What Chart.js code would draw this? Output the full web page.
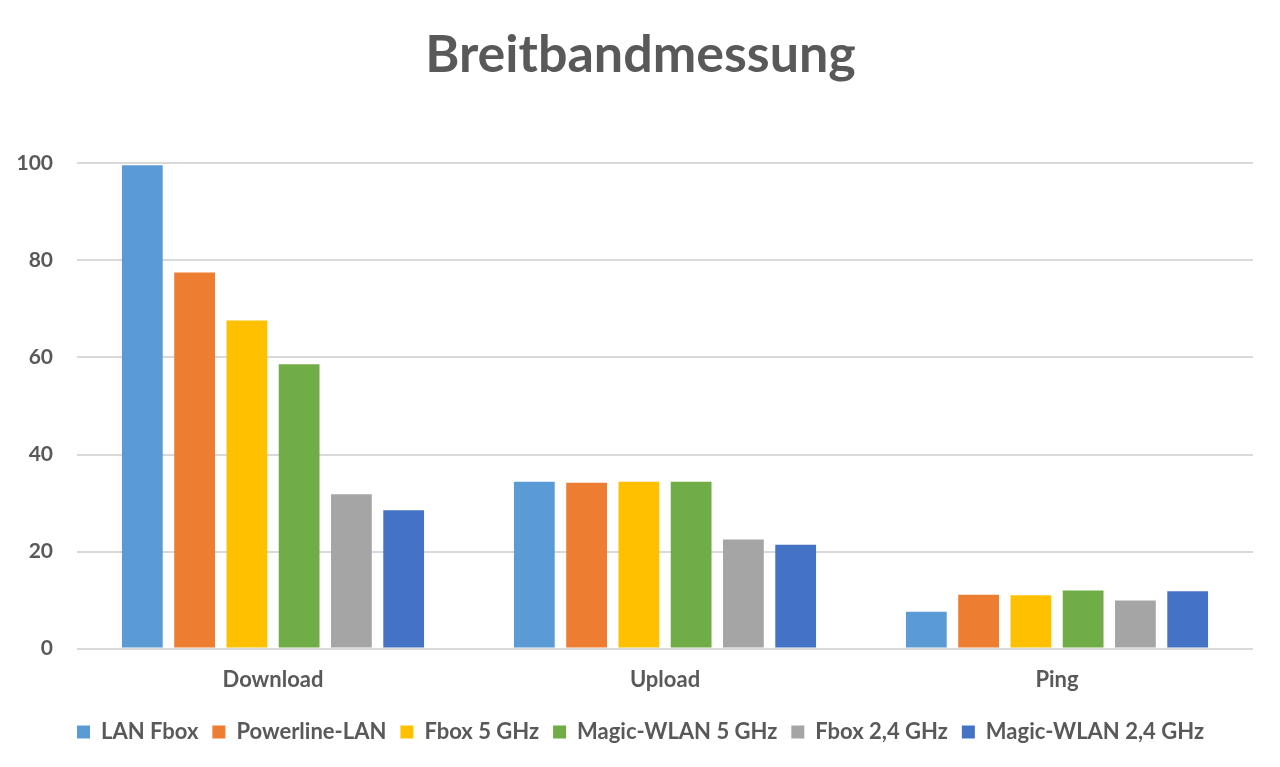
<!DOCTYPE html>
<html>
<head>
<meta charset="utf-8">
<script src="https://cdn.jsdelivr.net/npm/chart.js@4/dist/chart.umd.min.js"></script>
<style>
    html, body { margin: 0; padding: 0; background: #ffffff; }
    #wrap { width: 1280px; height: 767px; }
</style>
</head>
<body>
<div id="wrap"><canvas id="breitbandChart" width="1280" height="767"></canvas></div>
<script>
// Daten
const categories = ['Download', 'Upload', 'Ping'];
const seriesNames = ['LAN Fbox', 'Powerline-LAN', 'Fbox 5 GHz', 'Magic-WLAN 5 GHz', 'Fbox 2,4 GHz', 'Magic-WLAN 2,4 GHz'];
const lanFbox = [99.6, 34.4, 7.6];
const powerlineLan = [77.5, 34.2, 11.1];
const fbox5 = [67.6, 34.4, 11.0];
const magic5 = [58.6, 34.4, 12.0];
const fbox24 = [31.8, 22.5, 9.9];
const magic24 = [28.5, 21.4, 11.8];
const yTicks = [0, 20, 40, 60, 80, 100];

const colors = ['#5B9BD5', '#ED7D31', '#FFC000', '#70AD47', '#A5A5A5', '#4472C4'];
const seriesValues = [lanFbox, powerlineLan, fbox5, magic5, fbox24, magic24];
const textColor = '#595959';
const fontFamily = "Lato, 'Open Sans', sans-serif";

Chart.defaults.font.family = fontFamily;
Chart.defaults.color = textColor;

const datasets = seriesNames.map(function(name, i) {
    return {
        label: name,
        data: seriesValues[i],
        backgroundColor: colors[i],
        borderWidth: 0,
        categoryPercentage: 0.8,
        barPercentage: 0.78
    };
});

new Chart(document.getElementById('breitbandChart').getContext('2d'), {
    type: 'bar',
    data: { labels: categories, datasets: datasets },
    options: {
        responsive: false,
        animation: false,
        devicePixelRatio: 1,
        layout: { padding: { left: 14, right: 13, top: 16, bottom: 14 } },
        plugins: {
            title: {
                display: true,
                text: 'Breitbandmessung',
                color: textColor,
                font: { size: 52, weight: 'bold' },
                padding: { top: 8, bottom: 77 }
            },
            legend: {
                position: 'bottom',
                labels: {
                    boxWidth: 13,
                    boxHeight: 13,
                    padding: 14,
                    color: textColor,
                    font: { size: 22, weight: 'bold' }
                }
            },
            tooltip: { enabled: false }
        },
        scales: {
            x: {
                grid: { display: false },
                border: { display: false },
                afterFit: function(axis) { axis.height = axis.height + 4; },
                ticks: {
                    color: textColor,
                    font: { size: 22, weight: 'bold' },
                    padding: 10
                }
            },
            y: {
                min: 0,
                max: 100,
                afterBuildTicks: function(axis) {
                    axis.ticks = yTicks.map(function(v) { return { value: v }; });
                },
                afterFit: function(axis) { axis.width = 63; },
                border: { display: false },
                grid: { color: '#D9D9D9', lineWidth: 2, drawTicks: false },
                ticks: {
                    color: textColor,
                    font: { size: 21, weight: 'bold' },
                    padding: 24
                }
            },
            // leere Achse rechts, nur als Abstand
            yRight: {
                position: 'right',
                min: 0,
                max: 100,
                afterFit: function(axis) { axis.width = 14; },
                border: { display: false },
                grid: { display: false },
                ticks: { display: false }
            }
        }
    }
});
</script>
</body>
</html>
